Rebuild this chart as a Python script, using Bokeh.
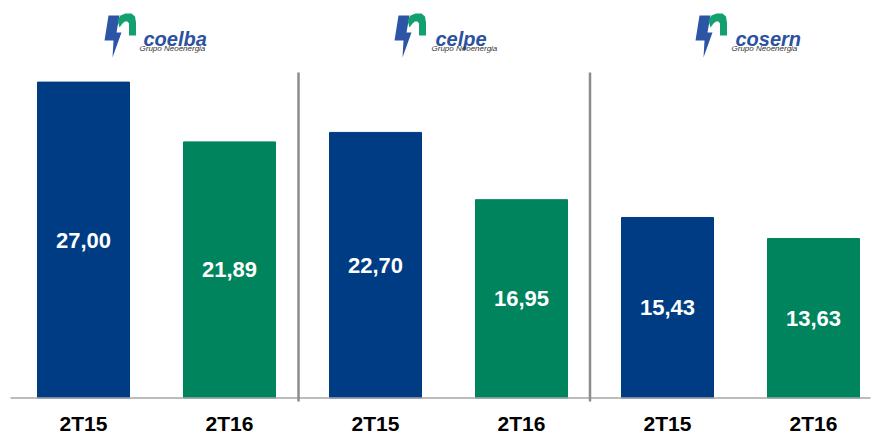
from bokeh.plotting import figure
from bokeh.models import Range1d, ColumnDataSource
from bokeh.core.properties import value
from bokeh.embed import file_html
from bokeh.resources import INLINE

# ---- data ----
companies = ["coelba", "celpe", "cosern"]
periods = ["2T15", "2T16", "2T15", "2T16", "2T15", "2T16"]
values = [27.00, 21.89, 22.70, 16.95, 15.43, 13.63]

BLUE = "#003C84"
GREEN = "#00845D"
colors = [BLUE if per == "2T15" else GREEN for per in periods]
labels = [f"{v:.2f}".replace(".", ",") for v in values]
xs = list(range(len(values)))

# ---- pixel <-> data helpers (for decorations only) ----
X0, DX = 83.0, 146.0      # px of first bar centre, px per slot
Y0, DY = 397.5, 11.7      # baseline px, px per unit


def px2x(px):
    return (px - X0) / DX


def py2y(py):
    return (Y0 - py) / DY


W, H = 872, 434
p = figure(width=W, height=H, output_backend="svg", toolbar_location=None,
           x_range=Range1d(px2x(0), px2x(W)),
           y_range=Range1d(py2y(H), py2y(0)),
           min_border=0)
p.axis.visible = False
p.grid.visible = False
p.outline_line_color = None
p.background_fill_color = "white"
p.border_fill_color = "white"

src = ColumnDataSource(dict(x=xs, top=values, color=colors, label=labels,
                            mid=[v / 2 for v in values], per=periods))

p.vbar(x="x", top="top", bottom=0, width=92 / DX, color="color", source=src)

# baseline
p.line([px2x(10), px2x(870)], [0, 0], line_color="#A6A6A6", line_width=1.5)

# separators between companies
for sx in (298.0, 589.5):
    p.line([px2x(sx), px2x(sx)], [py2y(401), py2y(72)], line_color="#8C8C8C", line_width=2.5)

# value labels
p.text(x="x", y="mid", text="label", source=src, text_color="white",
       text_font=value("Liberation Sans"), text_font_style="bold",
       text_font_size="22px", text_align="center", text_baseline="middle")

# category labels
p.text(x="x", y=py2y(422.5), text="per", source=src, text_color="black",
       text_font=value("Liberation Sans"), text_font_style="bold",
       text_font_size="21px", text_align="center", text_baseline="middle")

# ---- logos ----
icon_left = [106, 396, 697]
text_left = [143, 435, 735]
blue_poly = [(2, 3), (13, 3), (10, 20), (15, 20), (6, 45), (7, 28), (-2, 28)]
green_poly = [(11, 8), (14, 3), (19, 1), (25, 1), (28.5, 4), (29.5, 10),
              (29.5, 23), (22.5, 23), (22.5, 11), (21, 9), (18.5, 9), (16, 11), (13, 15)]
ITOP = 12
bxs, bys, gxs, gys = [], [], [], []
for il in icon_left:
    bxs.append([px2x(il + a) for a, b in blue_poly])
    bys.append([py2y(ITOP + b) for a, b in blue_poly])
    gxs.append([px2x(il + a) for a, b in green_poly])
    gys.append([py2y(ITOP + b) for a, b in green_poly])
p.patches(bxs, bys, fill_color="#2C56A5", line_color=None)
p.patches(gxs, gys, fill_color="#13A06F", line_color=None)

p.text(x=[px2x(t) for t in text_left], y=[py2y(38)] * 3, text=companies,
       text_color="#2B51A0", text_font=value("Liberation Sans"),
       text_font_style="bold italic", text_font_size="20px",
       text_align="left", text_baseline="alphabetic")
p.text(x=[px2x(t - 4) for t in text_left], y=[py2y(48)] * 3,
       text=["Grupo Neoenergia"] * 3, text_color="#333333",
       text_font=value("Liberation Sans"), text_font_style="italic",
       text_font_size="8px", text_align="left", text_baseline="alphabetic")

open("out.html", "w").write(file_html(p, INLINE))
